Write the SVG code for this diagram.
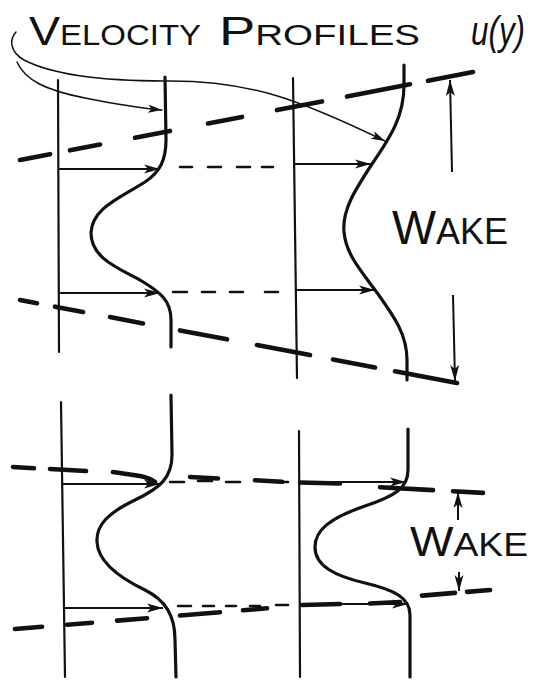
<svg xmlns="http://www.w3.org/2000/svg" width="540" height="681" viewBox="0 0 540 681">
<style>
.lbl{font-family:"Liberation Sans",Arial,sans-serif;fill:#111}
.base{fill:none;stroke:#111;stroke-width:2.2;stroke-linecap:round}
.prof{fill:none;stroke:#111;stroke-width:3.2;stroke-linecap:round;stroke-linejoin:round}
.arr{fill:none;stroke:#111;stroke-width:1.8;marker-end:url(#ah)}
.lead{fill:none;stroke:#111;stroke-width:1.5;stroke-linecap:round;marker-end:url(#ahs)}
.thin{fill:none;stroke:#111;stroke-width:2.6;stroke-linecap:round}
.thick{fill:none;stroke:#111;stroke-width:4.6;stroke-linecap:round}
.dim{fill:none;stroke:#111;stroke-width:2;marker-end:url(#ah)}
</style>
<defs>
<marker id="ah" markerUnits="userSpaceOnUse" markerWidth="17" markerHeight="11" refX="16" refY="5" orient="auto">
<path d="M0,0.5 L16,5 L0,9.5 L4,5 Z" fill="#111"/>
</marker>
<marker id="ahs" markerUnits="userSpaceOnUse" markerWidth="15" markerHeight="10" refX="14" refY="5" orient="auto">
<path d="M0,0.8 L14,5 L0,9.2 L3.5,5 Z" fill="#111"/>
</marker>
</defs>
<rect width="540" height="681" fill="#fff"/>

<g id="title">
<text class="lbl" x="29" y="45" textLength="172" lengthAdjust="spacingAndGlyphs"><tspan font-size="41">V</tspan><tspan font-size="29">ELOCITY</tspan></text>
<text class="lbl" x="219" y="45" textLength="201" lengthAdjust="spacingAndGlyphs"><tspan font-size="41">P</tspan><tspan font-size="29">ROFILES</tspan></text>
<text class="lbl" x="471" y="45" font-size="40" font-style="italic" textLength="54" lengthAdjust="spacingAndGlyphs">u(y)</text>
</g>

<g id="connectors">
<path class="lead" d="M16,32 C9,40 10,52 24,60 C55,76 110,81 165,81 C250,80 300,100 385,141"/>
<path class="lead" d="M17,62 C25,80 45,90 85,98 C115,104 140,108 162,110"/>
</g>

<g id="top-left-profile">
<path class="base" d="M58,80 L59,352"/>
<path class="prof" d="M165,77 L166,140 C166,160 160,172 145,182 C120,198 92,208 91,233 C91,258 118,268 140,280 C160,292 171,300 171,320 L171,347"/>
<path class="arr" d="M59,169 L160,169"/>
<path class="arr" d="M59,293 L160,293"/>
</g>

<g id="top-right-profile">
<path class="base" d="M293,78 L297,378"/>
<path class="prof" d="M404,65 L404,85 C404,115 392,135 372,164 C355,190 342,210 344,232 C346,255 362,272 378,294 C395,318 407,335 407,360 L407,380"/>
<path class="arr" d="M294,164 L371,164"/>
<path class="arr" d="M296,290 L375,290"/>
</g>

<g id="top-dashes">
<path class="thin" d="M180,167 L192,167 M208,167 L221,167 M237,167 L250,167 M262,167 L273,167"/>
<path class="thin" d="M173,292 L187,292 M202,292 L215,292 M230,292 L243,292 M265,292 L278,292"/>
<path class="thick" d="M20,160 L50,154.2 M70,150.3 L100,144.5 M135,137.7 L170,130.9 M208,123.5 L242,116.9 M277,110.1 L322,101.4 M347,96.6 L410,84.3 M428,80.8 L473,72.1"/>
<path class="thick" d="M20,300 L37,303.2 M55,306.7 L83,312 M110,317.1 L143,323.4 M180,330.4 L227,339.3 M257,345 L310,355.1 M333,359.5 L375,367.5 M395,371.3 L457,383"/>
</g>

<g id="top-wake">
<path class="dim" d="M452,172 L450,80"/>
<path class="dim" d="M453,295 L455,381"/>
<text class="lbl" x="392" y="244" textLength="116" lengthAdjust="spacingAndGlyphs"><tspan font-size="48">W</tspan><tspan font-size="37">AKE</tspan></text>
</g>

<g id="bottom-left-profile">
<path class="base" d="M61,402 L65,677"/>
<path class="prof" d="M171,395 L172,455 C172,478 160,488 135,500 C108,513 96,525 97,542 C98,562 120,578 145,590 C165,600 175,615 175,640 L176,677"/>
<path class="arr" d="M61,484 L160,484"/>
<path class="arr" d="M63,608 L163,608"/>
</g>

<g id="bottom-right-profile">
<path class="base" d="M299,431 L300,677"/>
<path class="prof" d="M408,429 L408,470 C408,488 395,496 365,506 C330,518 315,530 315,547 C315,566 335,576 365,583 C395,590 410,598 410,615 L410,677"/>
<path class="arr" d="M299,482 L406,482"/>
<path class="arr" d="M299,604 L408,604"/>
</g>

<g id="bottom-dashes">
<path class="thin" d="M170,482 L184,482 M198,481 L212,481 M226,482 L240,482 M276,482 L288,482"/>
<path class="thin" d="M178,606 L191,606 M203,606 L214,606 M226,606 L236,606 M250,606 L260,606 M276,605 L288,605"/>
<path class="thick" d="M13,467 L34,468.2 M50,469 L86,471 M113,472 L140,476 Q150,478 155,482 M190,477 L218,478.5 M255,480.3 L282,481.8 M300,482.5 L340,483.5 M380,487.2 L433,490.1 M453,491.2 L483,492.9"/>
<path class="thick" d="M15,629 L42,626.8 M67,624.7 L92,622.7 M117,620.6 L147,618.2 M180,615.5 L220,612.2 M243,610.3 L267,608.3 M302,605 L340,604 M370,603.5 L400,602 M422,595.6 L455,592.9 M467,591.9 L490,590"/>
</g>

<g id="bottom-wake">
<path class="dim" d="M458,520 L458,492"/>
<path class="dim" d="M459,572 L459,591"/>
<text class="lbl" x="410" y="556" textLength="118" lengthAdjust="spacingAndGlyphs"><tspan font-size="42">W</tspan><tspan font-size="34">AKE</tspan></text>
</g>
</svg>
